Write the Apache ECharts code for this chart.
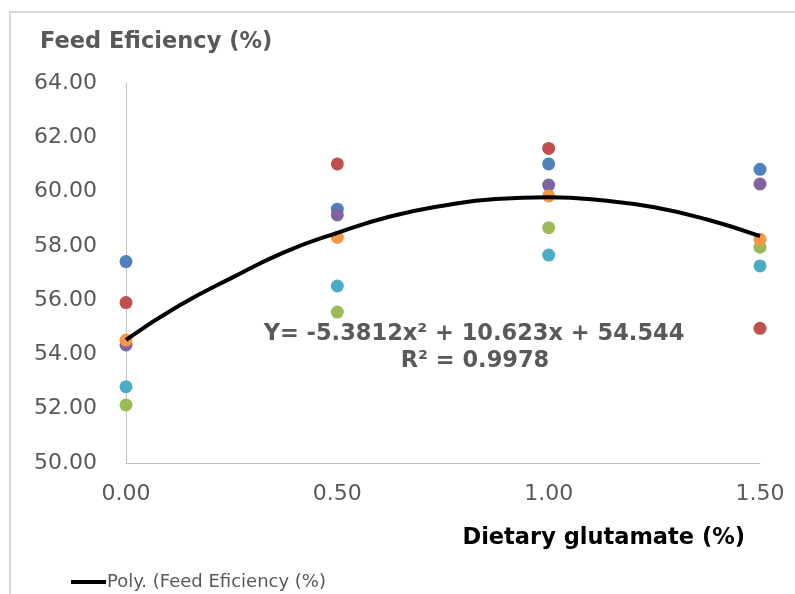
<!DOCTYPE html>
<html>
<head>
<meta charset="utf-8">
<script src="https://cdn.jsdelivr.net/npm/echarts@6/dist/echarts.min.js"></script>
<style>
html,body{margin:0;padding:0;background:#fff;}
#chart{width:795px;height:594px;}
</style>
</head>
<body>
<div id="chart"></div>
<script>
// Dietary glutamate levels (%)
var xLevels = [0, 0.5, 1.0, 1.5];
// Replicate observations of feed efficiency (%), one array per replicate colour
var rep1 = [57.42, 59.35, 61.02, 60.82]; // blue
var rep2 = [55.91, 61.02, 61.59, 54.96]; // red
var rep3 = [52.14, 55.56, 58.67, 57.95]; // green
var rep4 = [54.35, 59.14, 60.24, 60.28]; // purple
var rep5 = [52.81, 56.52, 57.66, 57.26]; // teal
var rep6 = [54.53, 58.31, 59.84, 58.24]; // orange
// Polynomial trendline
var trendX = [0, 0.125, 0.25, 0.375, 0.5, 0.625, 0.75, 0.875, 1.0, 1.125, 1.25, 1.375, 1.5];
var trendY = [54.54, 55.79, 56.82, 57.77, 58.48, 59.08, 59.48, 59.73, 59.79, 59.68, 59.42, 58.97, 58.36];
var yTicks = [50, 52, 54, 56, 58, 60, 62, 64];
var xTicks = [0, 0.5, 1.0, 1.5];
var trendName = 'Poly. (Feed Eficiency (%)';
var equationText = 'Y= -5.3812x\u00B2 + 10.623x + 54.544';
var r2Text = 'R\u00B2 = 0.9978';

var reps = [rep1, rep2, rep3, rep4, rep5, rep6];
var colors = ['#4F81BD', '#C0504D', '#9BBB59', '#8064A2', '#4BACC6', '#F79646'];

function pairs(xs, ys) { return xs.map(function (x, i) { return [x, ys[i]]; }); }

var series = reps.map(function (r, i) {
  return {
    name: 'Rep ' + (i + 1),
    type: 'scatter',
    data: pairs(xLevels, r),
    symbolSize: 13,
    itemStyle: { color: colors[i], opacity: 1 },
    z: 3
  };
});
series.push({
  name: trendName,
  type: 'line',
  data: pairs(trendX, trendY),
  smooth: true,
  showSymbol: false,
  symbol: 'none',
  lineStyle: { color: '#000', width: 4 },
  itemStyle: { color: '#000' },
  z: 4
});

var chart = echarts.init(document.getElementById('chart'), null, { renderer: 'canvas' });
chart.setOption({
  animation: false,
  backgroundColor: '#fff',
  grid: { left: 126, right: 35, top: 83, bottom: 131, containLabel: false },
  xAxis: {
    type: 'value',
    min: xTicks[0], max: xTicks[xTicks.length - 1], interval: 0.5,
    axisLine: { show: true, lineStyle: { color: '#BFBFBF', width: 1 } },
    axisTick: { show: false },
    splitLine: { show: false },
    axisLabel: {
      margin: 20, color: '#595959', fontFamily: 'DejaVu Sans', fontSize: 22,
      formatter: function (v) { return v.toFixed(2); }
    }
  },
  yAxis: {
    type: 'value',
    min: yTicks[0], max: yTicks[yTicks.length - 1], interval: 2,
    axisLine: { show: true, lineStyle: { color: '#BFBFBF', width: 1 } },
    axisTick: { show: false },
    splitLine: { show: false },
    axisLabel: {
      margin: 29, color: '#595959', fontFamily: 'DejaVu Sans', fontSize: 22,
      formatter: function (v) { return v.toFixed(2); }
    }
  },
  legend: {
    data: [trendName],
    left: 66, top: 568,
    icon: 'rect', itemWidth: 35, itemHeight: 4, itemGap: 2,
    textStyle: { color: '#595959', fontFamily: 'DejaVu Sans', fontSize: 18, padding: [0, 0, 0, -4] }
  },
  graphic: [
    { type: 'rect', shape: { x: 10, y: 12, width: 800, height: 600 },
      style: { fill: 'none', stroke: '#D9D9D9', lineWidth: 2 }, silent: true, z: -10 },
    { type: 'text', x: 40, y: 42,
      style: { text: 'Feed Eficiency (%)', fill: '#595959', font: 'bold 22.5px "DejaVu Sans"', align: 'left', verticalAlign: 'middle' } },
    { type: 'text', x: 745, y: 538,
      style: { text: 'Dietary glutamate (%)', fill: '#000', font: 'bold 22.5px "DejaVu Sans"', align: 'right', verticalAlign: 'middle' } },
    { type: 'text', x: 474, y: 334,
      style: { text: equationText, fill: '#595959', font: 'bold 22.5px "DejaVu Sans"', align: 'center', verticalAlign: 'middle' }, z: 10 },
    { type: 'text', x: 475, y: 361,
      style: { text: r2Text, fill: '#595959', font: 'bold 22.5px "DejaVu Sans"', align: 'center', verticalAlign: 'middle' }, z: 10 }
  ],
  series: series
});
</script>
</body>
</html>
